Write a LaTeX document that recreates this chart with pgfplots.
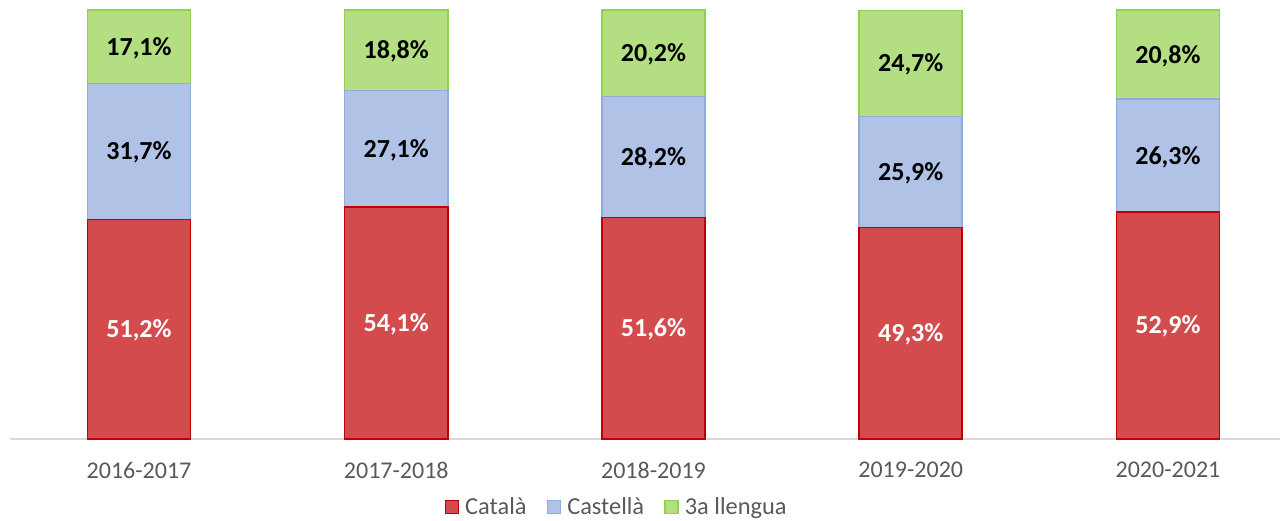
\documentclass[border=0pt]{standalone}
\usepackage{pgfplots}
\pgfplotsset{compat=1.18}
\usepackage{fontspec}
\setmainfont{Carlito}
\definecolor{redfill}{RGB}{212,75,77}
\definecolor{redline}{RGB}{192,0,0}
\definecolor{bluefill}{RGB}{176,195,230}
\definecolor{blueline}{RGB}{143,170,220}
\definecolor{greenfill}{RGB}{179,222,129}
\definecolor{greenline}{RGB}{146,208,80}
\definecolor{txtgray}{RGB}{89,89,89}
\definecolor{axgray}{RGB}{217,217,217}
\begin{document}
\begin{tikzpicture}
\pgfplotsset{
  common/.style={
    scale only axis, width=635pt, height=219.5pt,
    xmin=-0.5015, xmax=4.4355, ymin=0, ymax=102.3,
    clip=false,
  }
}
\begin{axis}[common,
  ybar stacked, bar width=51.5pt,
  axis x line=bottom, axis y line=none,
  x axis line style={draw=axgray, line width=0.75pt, -},
  xtick={0,1,2,3,4},
  xticklabels={2016-2017,2017-2018,2018-2019,2019-2020,2020-2021},
  major tick length=0pt,
  xtick style={draw=none},
  xticklabel style={inner sep=0pt, anchor=north, yshift=-11.5pt, font=\fontsize{12}{14}\selectfont, text=txtgray},
  legend columns=3,
  legend style={at={(0.478,-0.155)}, anchor=center, draw=none, fill=none, inner sep=0pt,
    nodes={inner sep=1.5pt, text=txtgray, font=\fontsize{12.2}{14}\selectfont},
    /tikz/every odd column/.append style={column sep=0pt},
    /tikz/every even column/.append style={column sep=8.5pt}},
  legend image code/.code={\draw[#1, line width=0.75pt] (0pt,-3.3pt) rectangle (6.6pt,3.3pt);},
]
\addplot[fill=redfill, draw=redline, line width=0.75pt] coordinates {(0,51.2) (1,54.1) (2,51.6) (3,49.3) (4,52.9)};
\addplot[fill=bluefill, draw=blueline, line width=0.75pt] coordinates {(0,31.7) (1,27.1) (2,28.2) (3,25.9) (4,26.3)};
\addplot[fill=greenfill, draw=greenline, line width=0.75pt] coordinates {(0,17.1) (1,18.8) (2,20.2) (3,24.7) (4,20.8)};
\addlegendentry{\hspace{1.5pt}Català}
\addlegendentry{\hspace{1.5pt}Castellà}
\addlegendentry{\hspace{1.5pt}3a llengua}
\end{axis}
\begin{axis}[common, hide axis]
\addplot[only marks, mark=none, nodes near coords, point meta=explicit symbolic,
  nodes near coords style={anchor=center, font=\bfseries\fontsize{13}{15}\selectfont, text=white}]
  table[meta=label] {
x y label
0 25.3 51,2\%
1 26.75 54,1\%
2 25.5 51,6\%
3 24.35 49,3\%
4 26.15 52,9\%
};
\addplot[only marks, mark=none, nodes near coords, point meta=explicit symbolic,
  nodes near coords style={anchor=center, font=\bfseries\fontsize{13}{15}\selectfont, text=black}]
  table[meta=label] {
x y label
0 66.75 31,7\%
1 67.35 27,1\%
2 65.4 28,2\%
3 61.95 25,9\%
4 65.75 26,3\%
0 91.15 17,1\%
1 90.3 18,8\%
2 89.6 20,2\%
3 87.25 24,7\%
4 89.3 20,8\%
};
\end{axis}
\path (-5pt,-40pt) rectangle (636pt,219.5pt);
\end{tikzpicture}
\end{document}
